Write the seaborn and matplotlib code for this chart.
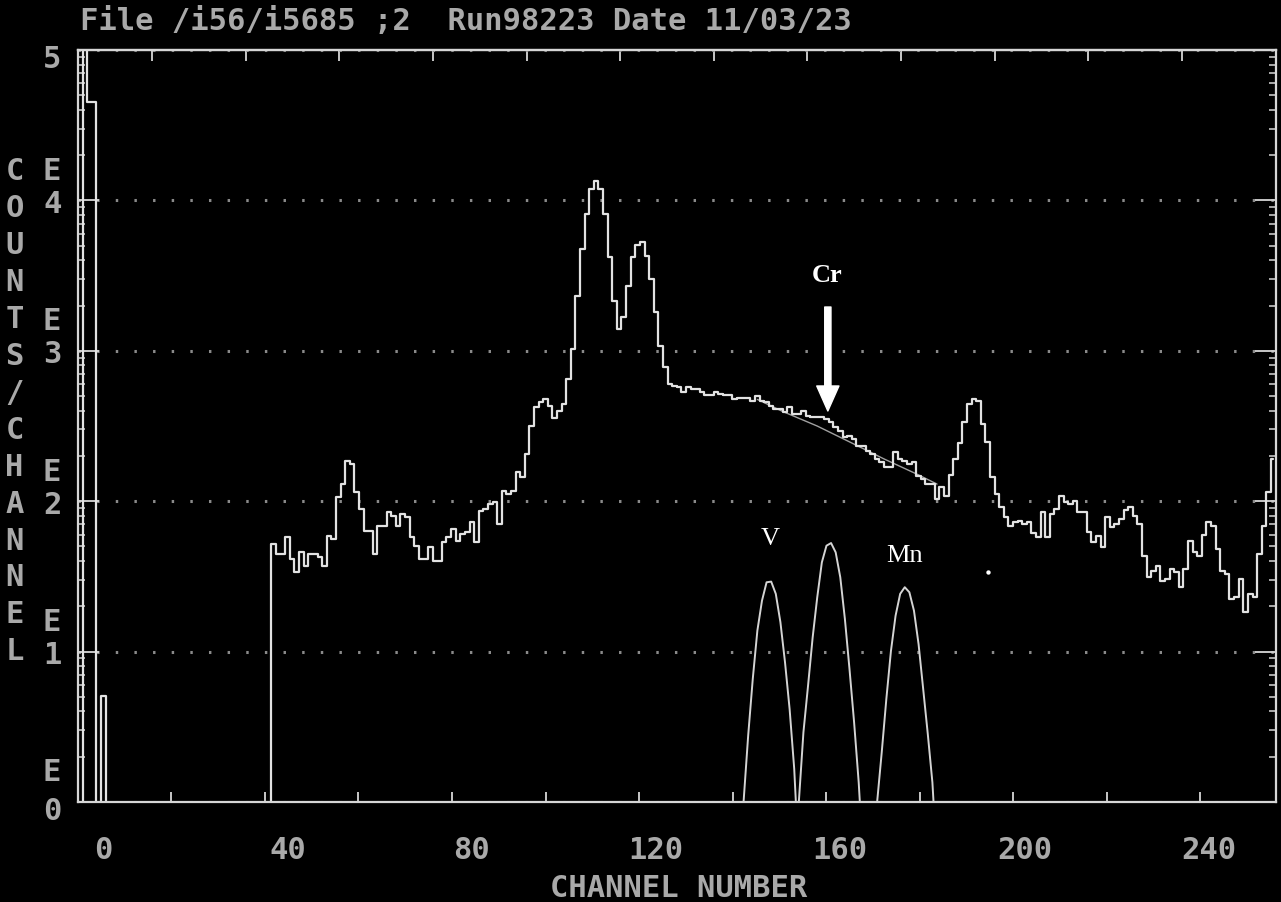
import numpy as np
import matplotlib
matplotlib.use("Agg")
import matplotlib.pyplot as plt
from matplotlib import transforms
from matplotlib.ticker import LogLocator, NullFormatter, FixedLocator
import seaborn as sns

# ---------------- data ----------------
spectrum_channels = list(range(-5, 255))
spectrum_counts = (
    [0, 200000, 45100, 45100, 0, 5.1]
    + [0, 0, 0, 0, 0, 0, 0, 0, 0, 0, 0, 0, 0, 0, 0, 0, 0, 0,
       0, 0, 0, 0, 0, 0, 0, 0, 0, 0, 0, 0, 0, 0, 0, 0, 0, 0]
    + [52, 44.5, 44.5, 57.5, 41.3, 33.7, 45.7, 37.3, 44.5, 44.5,
       42.4, 37.3, 59, 56.1, 106, 130, 186, 177, 115, 88.8,
       63.7, 63.7, 44.5, 68.7, 68.7, 84.4, 80.1, 68.7, 82.2, 78.2,
       57.5, 50.6, 41.3, 41.3, 49.4, 40.2, 40.2, 53.3, 57.5, 65.3,
       54.6, 60.5, 62.1, 72.4, 53.3, 86.5, 88.8, 95.8, 98.3, 70.5,
       117, 112, 117, 156, 144, 206, 318, 421, 455, 478,
       432, 355, 400, 440, 649, 1027, 2323, 4750, 8128, 11920,
       13530, 11920, 8128, 4180, 2153, 1397, 1670, 2710, 4180, 5050,
       5260, 4290, 3000, 1803, 1082, 776, 601, 580, 572, 530,
       572, 557, 557, 530, 508, 508, 535, 520, 508, 508,
       478, 483, 483, 483, 466, 503, 466, 455, 432, 410,
       410, 390, 421, 380, 380, 400, 370, 361, 361, 361,
       352, 335, 310, 294, 266, 273, 259, 234, 234, 217,
       206, 191, 181, 168, 168, 211, 191, 186, 177, 181,
       148, 141, 130, 130, 103, 125, 109, 150, 190, 245,
       335, 440, 478, 465, 326, 248, 145, 112, 91.5, 78.5,
       68.4, 73, 73.8, 70.5, 72.4, 61.5, 57.8, 84.4, 57.8, 82,
       88.8, 109, 98.9, 95.8, 101, 84.4, 84.4, 62.1, 53.3, 59,
       49.4, 78.2, 67, 70.5, 76.2, 87, 91, 80.1, 70.5, 43.4,
       31.2, 34.5, 37.3, 29.6, 30.4, 35.4, 33.7, 26.8, 35.4, 54.6,
       45.7, 43.4, 60, 72.4, 68.7, 48.1, 34.5, 32.7, 22.4, 23,
       30.4, 18.3, 24.2, 23, 44.5, 68.7, 115, 191]
)

v_channels = list(range(139, 152))
v_counts = [1.0, 2.76, 6.58, 13.8, 21.8, 28.9, 29.2, 24.2, 15.7, 8.49, 4.15, 1.66, 0.4]
cr_channels = list(range(151, 166))
cr_counts = [1.0, 2.91, 5.93, 12.4, 23, 39.2, 50.6, 52.7, 45.7, 31.2, 16.5, 7.66, 3.39, 1.35, 0.4]
mn_channels = list(range(168, 182))
mn_counts = [1.0, 2.14, 4.84, 10.1, 17.3, 24.2, 26.8, 24.8, 18.7, 11.2, 5.64, 2.83, 1.35, 0.4]

fit_channels = [142, 147.5, 155, 162, 169.5, 176.5, 181]
fit_counts = [475, 395, 316, 248, 191, 152, 130]

dot_channels = [192]
dot_counts = [34]

x_tick_values = [0, 40, 80, 120, 160, 200, 240]
x_tick_labels = ["0", "40", "80", "120", "160", "200", "240"]
bottom_tick_marks = [14.7, 35.0, 55.3, 75.6, 96.0, 116.3, 136.6, 156.9, 177.2, 197.6, 217.9, 238.2]
top_tick_marks = [10.6, 30.9, 51.2, 71.5, 91.9, 112.2, 132.5, 152.8, 173.1, 193.5, 213.8, 234.1]
y_tick_values = [1, 10, 100, 1000, 10000, 100000]
y_tick_labels = ["0", "1", "2", "3", "4", "5"]

title_text = "File /i56/i5685 ;2  Run98223 Date 11/03/23"
x_label = "CHANNEL NUMBER"
y_label_letters = list("COUNTS/CHANNEL")

peak_labels = ["V", "Cr", "Mn"]
peak_label_x = [144.7, 157.1, 174.0]
peak_label_y = [51.9, 2911, 40.2]
arrow_x = 157.3
arrow_from = 1955
arrow_to = 398

# ---------------- style ----------------
sns.set_style("dark", rc={"axes.facecolor": "black", "figure.facecolor": "black"})
plt.rcParams["font.family"] = ["DejaVu Sans Mono"]
plt.rcParams["font.weight"] = "bold"
plt.rcParams["axes.labelweight"] = "bold"

line_c = "#e2e2e2"
text_c = "#a9a9a9"
frame_c = "#d6d6d6"
FS = 22

W, H = 1281, 903
fig = plt.figure(figsize=(W / 100, H / 100), dpi=100)
fig.patch.set_facecolor("black")
ax = fig.add_axes([78 / W, 1 - 803 / H, 1198 / W, 752 / H])
ax.set_facecolor("black")

sns.lineplot(x=spectrum_channels, y=spectrum_counts, drawstyle="steps-mid",
             estimator=None, errorbar=None, color=line_c, lw=1.6, ax=ax, zorder=3)
for chans, cnts in [(v_channels, v_counts), (cr_channels, cr_counts), (mn_channels, mn_counts)]:
    sns.lineplot(x=chans, y=cnts, estimator=None, errorbar=None,
                 color="#d4d4d4", lw=1.4, ax=ax, zorder=3)
sns.lineplot(x=fit_channels, y=fit_counts, estimator=None, errorbar=None,
             color="#a0a0a0", lw=1.0, ax=ax, zorder=2)
sns.scatterplot(x=dot_channels, y=dot_counts, color="white", s=10, linewidth=0, ax=ax, zorder=3)

ax.set_yscale("log", nonpositive="clip")
ax.set_xlim(-5.5, 254.6)
ax.set_ylim(1, 1e5)

# frame
for s in ax.spines.values():
    s.set_visible(True)
    s.set_color(frame_c)
    s.set_linewidth(1.6)
    s.set_zorder(4)

# grid
ax.grid(False)
ax.grid(axis="y", which="major", color="#8a8a8a", linestyle=(0, (0.8, 5.3)), linewidth=2.2)
ax.grid(axis="x", which="both", visible=False)

# x ticks
ax.set_xticks(x_tick_values)
ax.set_xticklabels(x_tick_labels)
ax.xaxis.set_minor_locator(FixedLocator(bottom_tick_marks))
ax.tick_params(axis="x", which="major", bottom=True, top=False, length=0, pad=23.5,
               labelsize=FS, labelcolor=text_c)
ax.tick_params(axis="x", which="minor", bottom=True, top=False, direction="in",
               length=7, width=1.3, color=frame_c)
sec = ax.secondary_xaxis("top")
sec.set_xticks(top_tick_marks)
sec.tick_params(axis="x", which="major", direction="in", length=8, width=1.3,
                color=frame_c, labeltop=False)
sec.spines["top"].set_color(frame_c)
sec.spines["top"].set_linewidth(1.6)

# y ticks
ax.set_yticks(y_tick_values)
ax.set_yticklabels(y_tick_labels)
ax.yaxis.set_minor_locator(LogLocator(base=10, subs=np.arange(2, 10), numticks=50))
ax.yaxis.set_minor_formatter(NullFormatter())
ax.tick_params(axis="y", which="major", left=True, right=True, direction="in",
               length=15, width=1.3, color=frame_c, pad=12, labelsize=FS, labelcolor=text_c)
ax.tick_params(axis="y", which="minor", left=True, right=True, direction="in",
               length=5, width=1.1, color=frame_c)
# the end digits sit slightly lower in the reference
for lab in ax.get_yticklabels():
    if lab.get_text() in ("0", "5"):
        lab.set_transform(lab.get_transform() +
                          transforms.ScaledTranslation(0, -6 / 100, fig.dpi_scale_trans))

# "E" markers above the exponent digits
trans = transforms.blended_transform_factory(ax.transAxes, ax.transData)
for v in y_tick_values[:-1]:
    ax.text(-26 / 1198, v * 10 ** 0.2, "E", transform=trans, ha="center", va="center",
            fontsize=FS, color=text_c, clip_on=False)

# vertical y label, letter by letter
for i, ch in enumerate(y_label_letters):
    fig.text(14.5 / W, 1 - (172 + 36.9 * i) / H, ch, ha="center", va="center",
             fontsize=FS, color=text_c)

# title
fig.text(80 / W, 1 - 22 / H, title_text, ha="left", va="center", fontsize=FS, color=text_c)

# x label
ax.set_xlabel(x_label, fontsize=FS, color=text_c, fontweight="bold")
ax.xaxis.set_label_coords(0.5017, -0.0944)
ax.set_ylabel("")

# peak labels
for lab, lx, ly in zip(peak_labels, peak_label_x, peak_label_y):
    ax.text(lx, ly, lab, ha="center", va="baseline", fontsize=19, color="white",
            family="Liberation Serif", fontweight="bold" if lab == "Cr" else "normal", zorder=5)
ax.annotate("", xy=(arrow_x, arrow_to), xytext=(arrow_x, arrow_from),
            arrowprops=dict(facecolor="white", edgecolor="white", width=4.5,
                            headwidth=16, headlength=18, shrink=0), zorder=5)

fig.savefig("out.png", dpi=100, facecolor="black")
